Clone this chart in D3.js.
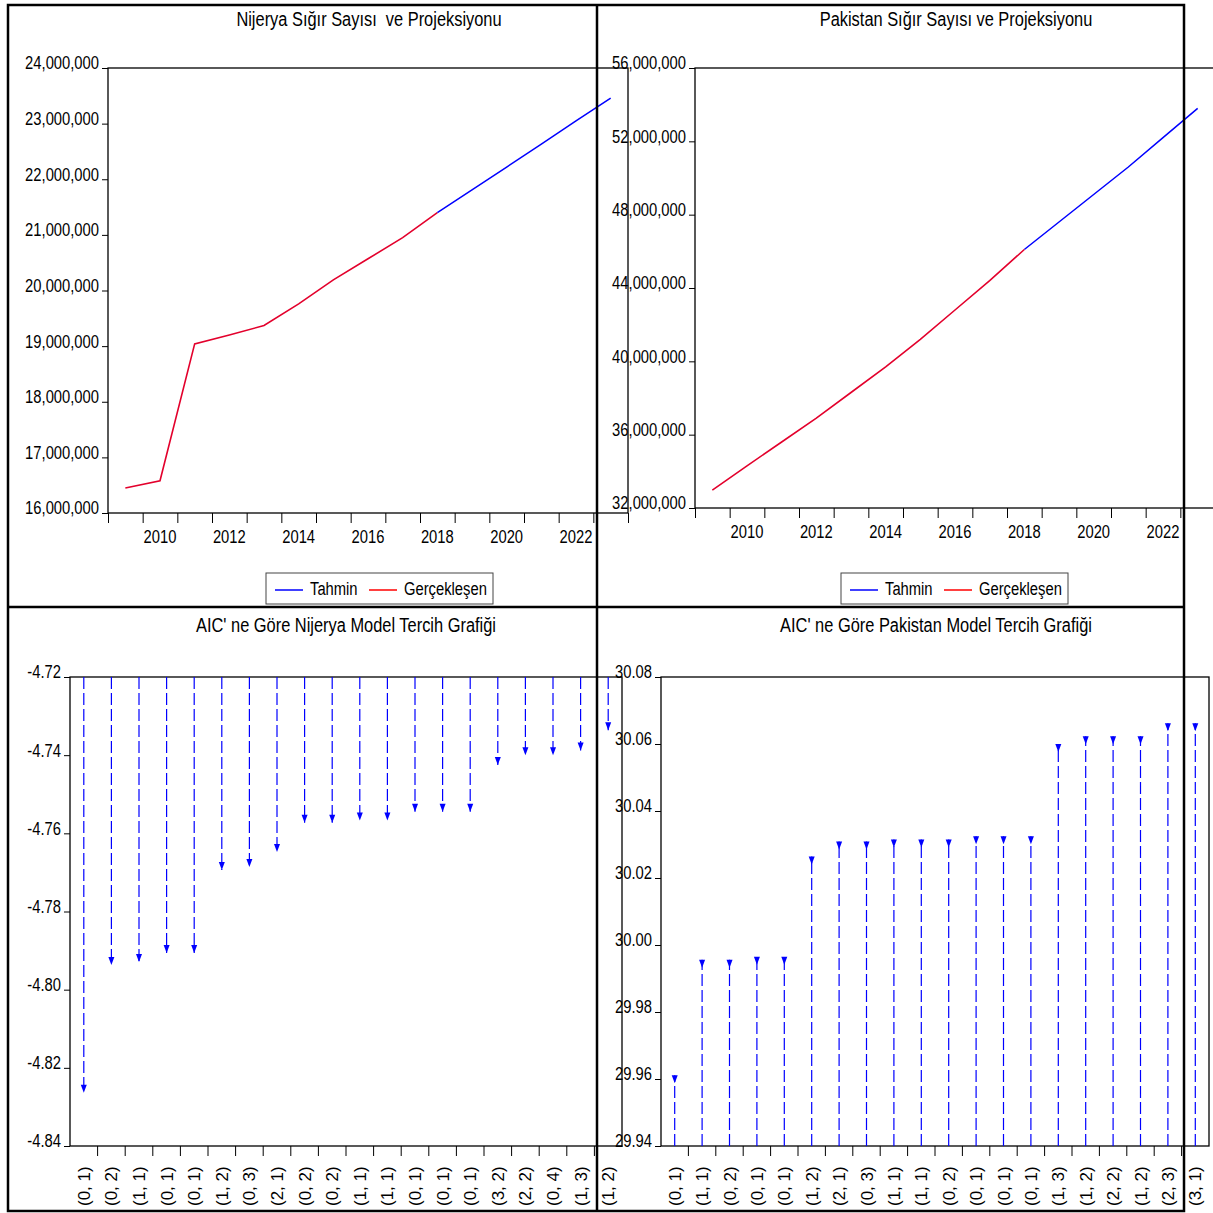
<!DOCTYPE html>
<html>
<head>
<meta charset="utf-8">
<script src="https://cdn.jsdelivr.net/npm/d3@7"></script>
<style>
  body { margin: 0; background: #fff; }
  svg text { font-family: 'Liberation Sans', Arial, sans-serif; fill: #000; white-space: pre; }
</style>
</head>
<body>
<svg id="chart" width="1213" height="1213"></svg>
<script>
// --- data ---
var actualYears = [2009, 2010, 2011, 2012, 2013, 2014, 2015, 2016, 2017, 2018];
var forecastYears = [2018, 2019, 2020, 2021, 2022, 2023];
var yearLabels = [2010, 2012, 2014, 2016, 2018, 2020, 2022];

var nigeriaActual = [16450000, 16580000, 19040000, 19200000, 19370000, 19760000, 20190000, 20570000, 20950000, 21400000];
var nigeriaForecast = [21400000, 21810000, 22220000, 22630000, 23050000, 23460000];
var nigeriaTicks = [16000000, 17000000, 18000000, 19000000, 20000000, 21000000, 22000000, 23000000, 24000000];

var pakistanActual = [32980000, 34300000, 35600000, 36900000, 38300000, 39700000, 41200000, 42800000, 44400000, 46100000];
var pakistanForecast = [46100000, 47600000, 49100000, 50600000, 52200000, 53800000];
var pakistanTicks = [32000000, 36000000, 40000000, 44000000, 48000000, 52000000, 56000000];

var nigeriaModels = ["(0, 1)", "(0, 2)", "(1, 1)", "(0, 1)", "(0, 1)", "(1, 2)", "(0, 3)", "(2, 1)", "(0, 2)", "(0, 2)",
                     "(1, 1)", "(1, 1)", "(0, 1)", "(0, 1)", "(0, 1)", "(3, 2)", "(2, 2)", "(0, 4)", "(1, 3)", "(1, 2)"];
var nigeriaAIC = [-4.8264, -4.7937, -4.7929, -4.7906, -4.7906, -4.7694, -4.7686, -4.7648, -4.7573, -4.7573,
                  -4.7567, -4.7567, -4.7545, -4.7545, -4.7545, -4.7425, -4.7400, -4.7400, -4.7388, -4.7336];
var nigeriaAICTicks = [-4.84, -4.82, -4.80, -4.78, -4.76, -4.74, -4.72];

var pakistanModels = ["(0, 1)", "(1, 1)", "(0, 2)", "(0, 1)", "(0, 1)", "(1, 2)", "(2, 1)", "(0, 3)", "(1, 1)", "(1, 1)",
                      "(0, 2)", "(0, 1)", "(0, 1)", "(0, 1)", "(1, 3)", "(1, 2)", "(2, 2)", "(1, 2)", "(2, 3)", "(3, 1)"];
var pakistanAIC = [29.9611, 29.9956, 29.9956, 29.9965, 29.9965, 30.0264, 30.0309, 30.0309, 30.0315, 30.0315,
                   30.0315, 30.0325, 30.0325, 30.0325, 30.0600, 30.0623, 30.0623, 30.0623, 30.0662, 30.0662];
var pakistanAICTicks = [29.94, 29.96, 29.98, 30.00, 30.02, 30.04, 30.06, 30.08];

var svg = d3.select("#chart");

function lineChart(o) {
  var g = svg.append("g");
  var x = d3.scaleLinear().domain([2008.5, 2023.5]).range([o.left, o.left + 520]);
  var y = d3.scaleLinear().domain(o.domain).range([o.bottom, 68]);

  g.append("text").attr("class", "narrow").attr("x", o.titleX).attr("y", 26).attr("text-anchor", "middle")
    .style("font-size", "20px").text(o.title);

  // frame
  g.append("rect").attr("x", x.range()[0]).attr("y", 68)
    .attr("width", 520).attr("height", o.bottom - 68)
    .attr("fill", "none").attr("stroke", "#000").attr("stroke-width", 1.3);

  var yAxis = d3.axisLeft(y).tickValues(o.ticks).tickSize(6).tickPadding(3).tickFormat(d3.format(","));
  var ya = g.append("g").attr("transform", "translate(" + o.left + ",0)").call(yAxis);
  ya.select(".domain").remove();
  ya.selectAll("text").attr("class", "narrow").style("font-size", "18px").attr("font-family", null).attr("dy", "0.05em");

  var xTicks = d3.range(2008.5, 2024, 1);
  var xAxis = d3.axisBottom(x).tickValues(xTicks).tickSize(10).tickFormat("");
  var xa = g.append("g").attr("transform", "translate(0," + o.bottom + ")").call(xAxis);
  xa.select(".domain").remove();
  g.selectAll(".yearlab").data(yearLabels).enter().append("text")
    .attr("class", "narrow")
    .attr("x", function (d) { return x(d); }).attr("y", o.bottom + 30)
    .attr("text-anchor", "middle").style("font-size", "18px").text(function (d) { return d; });

  var line = d3.line().x(function (d) { return x(d[0]); }).y(function (d) { return y(d[1]); });
  g.append("path").datum(d3.zip(forecastYears, o.forecast)).attr("d", line)
    .attr("fill", "none").attr("stroke", "#0000ff").attr("stroke-width", 1.5);
  g.append("path").datum(d3.zip(actualYears, o.actual)).attr("d", line)
    .attr("fill", "none").attr("stroke", "#e3002c").attr("stroke-width", 1.6);

  // legend
  var lg = g.append("g").attr("transform", "translate(" + o.legendX + ",573)");
  lg.append("rect").attr("width", 227).attr("height", 31).attr("fill", "#fff")
    .attr("stroke", "#444").attr("stroke-width", 1);
  lg.append("line").attr("x1", 9).attr("x2", 37).attr("y1", 17).attr("y2", 17).attr("stroke", "#0000ff").attr("stroke-width", 1.5);
  lg.append("text").attr("class", "narrow").attr("x", 44).attr("y", 22).style("font-size", "18px").text("Tahmin");
  lg.append("line").attr("x1", 103).attr("x2", 131).attr("y1", 17).attr("y2", 17).attr("stroke", "#ff0000").attr("stroke-width", 1.5);
  lg.append("text").attr("class", "narrow").attr("x", 138).attr("y", 22).style("font-size", "18px").text("Gerçekleşen");
}

function stemChart(o) {
  var g = svg.append("g");
  var idx = d3.range(o.values.length);
  var x = d3.scaleBand().domain(idx).range([o.left, o.left + o.width]);
  var y = d3.scaleLinear().domain(o.domain).range([1146, 677]);

  g.append("text").attr("class", "narrow").attr("x", o.titleX).attr("y", 632).attr("text-anchor", "middle")
    .style("font-size", "20px").text(o.title);

  g.append("rect").attr("x", o.left).attr("y", 677).attr("width", o.width).attr("height", 1146 - 677)
    .attr("fill", "none").attr("stroke", "#000").attr("stroke-width", 1.3);

  var yAxis = d3.axisLeft(y).tickValues(o.ticks).tickSize(6).tickPadding(3)
    .tickFormat(function (d) { return d.toFixed(2); });
  var ya = g.append("g").attr("transform", "translate(" + o.left + ",0)").call(yAxis);
  ya.select(".domain").remove();
  ya.selectAll("text").attr("class", "narrow").style("font-size", "18px").attr("font-family", null).attr("dy", "0.05em");

  // tick marks between categories
  g.selectAll(".xt").data(idx.slice(1)).enter().append("line")
    .attr("x1", function (d) { return x(d); }).attr("x2", function (d) { return x(d); })
    .attr("y1", 1146).attr("y2", 1156).attr("stroke", "#000").attr("stroke-width", 1);

  var base = y(o.base);
  var cx = function (i) { return x(i) + x.bandwidth() / 2; };
  g.selectAll(".stem").data(o.values).enter().append("line")
    .attr("x1", function (d, i) { return cx(i); }).attr("x2", function (d, i) { return cx(i); })
    .attr("y1", base).attr("y2", function (d) { return y(d); })
    .attr("stroke", "#0000ff").attr("stroke-width", 1.2).attr("stroke-dasharray", "12,4");

  g.selectAll(".head").data(o.values).enter().append("path")
    .attr("d", function (d, i) {
      var px = cx(i), py = y(d);
      if (o.down) return "M" + (px - 3) + "," + (py - 8) + "L" + (px + 3) + "," + (py - 8) + "L" + px + "," + py + "Z";
      return "M" + (px - 3) + "," + py + "L" + (px + 3) + "," + py + "L" + px + "," + (py + 8) + "Z";
    })
    .attr("fill", "#0000ff");

  g.append("g").selectAll("text").data(o.labels).enter().append("text")
    .attr("transform", function (d, i) { return "translate(" + (cx(i) + 6) + ",1206) rotate(-90)"; })
    .style("font-size", "17px").text(function (d) { return d; });
}

lineChart({ title: "Nijerya Sığır Sayısı  ve Projeksiyonu", titleX: 369, left: 108, bottom: 513,
  domain: [16000000, 24000000], ticks: nigeriaTicks, actual: nigeriaActual, forecast: nigeriaForecast, legendX: 266 });
lineChart({ title: "Pakistan Sığır Sayısı ve Projeksiyonu", titleX: 956, left: 695, bottom: 508,
  domain: [32000000, 56000000], ticks: pakistanTicks, actual: pakistanActual, forecast: pakistanForecast, legendX: 841 });

stemChart({ title: "AIC' ne Göre Nijerya Model Tercih Grafiği", titleX: 346, left: 70, width: 552,
  domain: [-4.84, -4.72], ticks: nigeriaAICTicks, values: nigeriaAIC, labels: nigeriaModels, base: -4.72, down: true });
stemChart({ title: "AIC' ne Göre Pakistan Model Tercih Grafiği", titleX: 936, left: 661, width: 548,
  domain: [29.94, 30.08], ticks: pakistanAICTicks, values: pakistanAIC, labels: pakistanModels, base: 29.94, down: false });

// no narrow font installed: squeeze the regular face horizontally
svg.selectAll("text.narrow").each(function () {
  var w = this.getComputedTextLength();
  d3.select(this).attr("textLength", w * 0.82).attr("lengthAdjust", "spacingAndGlyphs");
});

// cell borders
var borders = svg.append("g").attr("stroke", "#000").attr("stroke-width", 2.5).attr("fill", "none");
borders.append("rect").attr("x", 8).attr("y", 5).attr("width", 1176).attr("height", 1206);
borders.append("line").attr("x1", 597).attr("x2", 597).attr("y1", 5).attr("y2", 1211);
borders.append("line").attr("x1", 8).attr("x2", 1184).attr("y1", 607).attr("y2", 607);
</script>
</body>
</html>
